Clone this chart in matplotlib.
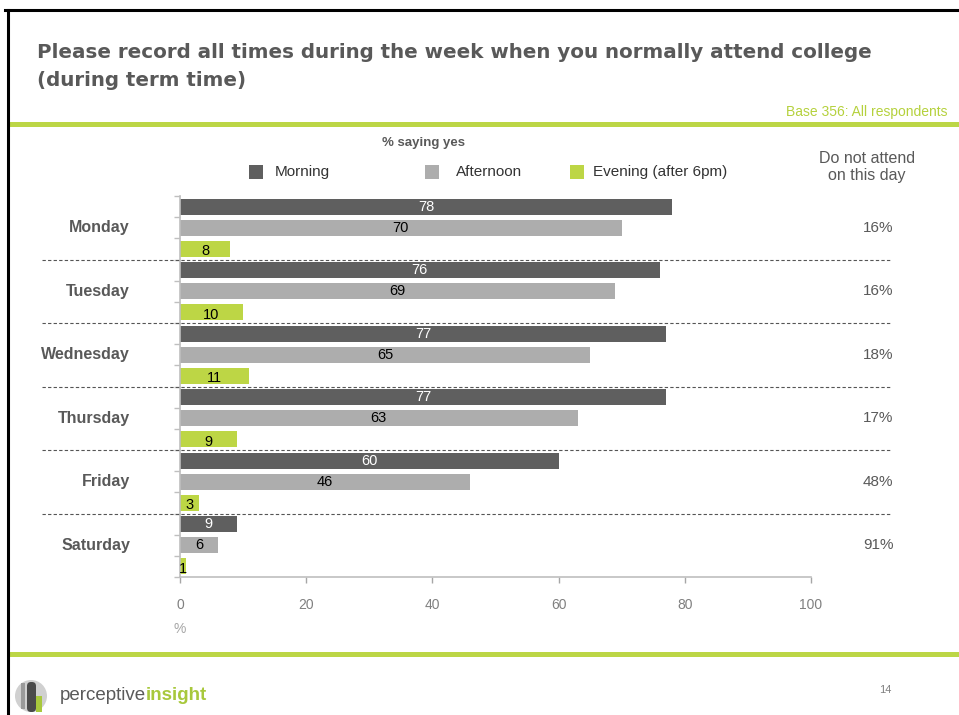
import matplotlib
matplotlib.use("Agg")
import matplotlib.pyplot as plt
from matplotlib.lines import Line2D
from matplotlib.patches import Rectangle, Circle, FancyBboxPatch
import numpy as np

plt.rcParams["font.family"] = ["Liberation Sans", "DejaVu Sans"]

days = ["Monday", "Tuesday", "Wednesday", "Thursday", "Friday", "Saturday"]
morning = [78, 76, 77, 77, 60, 9]
afternoon = [70, 69, 65, 63, 46, 6]
evening = [8, 10, 11, 9, 3, 1]
not_attend = ["16%", "16%", "18%", "17%", "48%", "91%"]
series_names = ["Morning", "Afternoon", "Evening (after 6pm)"]
xticks = [0, 20, 40, 60, 80, 100]

C_MORN = "#5f5f5f"
C_AFT = "#adadad"
C_EVE = "#bdd645"
C_TEXT = "#595959"
C_GREEN = "#bcd646"

W, H = 959, 715
fig = plt.figure(figsize=(W / 100, H / 100), dpi=100)


def fx(x):
    return x / W


def fy(y):
    return 1 - y / H


# slide frame and green rules
fig.add_artist(Line2D([fx(5), fx(959)], [fy(10), fy(10)], color="black", lw=2.2))
fig.add_artist(Line2D([fx(8), fx(8)], [fy(10), fy(715)], color="black", lw=2.2))
fig.add_artist(Rectangle((fx(9), fy(127)), fx(950), 5 / H, color=C_GREEN, lw=0))
fig.add_artist(Rectangle((fx(9), fy(657)), fx(950), 5 / H, color=C_GREEN, lw=0))

fig.text(fx(37), fy(52), "Please record all times during the week when you normally attend college",
         family="DejaVu Sans", weight="bold", fontsize=14.3, color=C_TEXT, va="center")
fig.text(fx(37), fy(80), "(during term time)",
         family="DejaVu Sans", weight="bold", fontsize=14.3, color=C_TEXT, va="center")
fig.text(fx(948), fy(112), "Base 356: All respondents", fontsize=10, color="#b5d13c",
         ha="right", va="center")

# chart area
left, right, top, bottom = 180, 811, 196, 577
ax = fig.add_axes([fx(left), fy(bottom), (right - left) / W, (bottom - top) / H])

n = len(days)
pos = np.arange(n) * 3
bh = 0.76
ax.barh(pos, morning, height=bh, color=C_MORN)
ax.barh(pos + 1, afternoon, height=bh, color=C_AFT)
ax.barh(pos + 2, evening, height=bh, color=C_EVE)

for i in range(n):
    ax.text(morning[i] / 2, pos[i], str(morning[i]), ha="center", va="center",
            fontsize=10.5, color="white")
    ax.text(afternoon[i] / 2, pos[i] + 1, str(afternoon[i]), ha="center", va="center",
            fontsize=10.5, color="black")
    ax.text(evening[i] / 2, pos[i] + 2.1, str(evening[i]), ha="center", va="center",
            fontsize=10.5, color="black")

ax.set_xlim(0, 100)
ax.set_ylim(3 * n - 0.5, -0.5)
ax.set_xticks(xticks)
ax.set_xticklabels([str(t) for t in xticks])
ax.tick_params(axis="x", colors="#a6a6a6", labelcolor="#808080", labelsize=10,
               length=4, width=1, pad=11)
ax.set_yticks(np.arange(3 * n + 1) - 0.5)
ax.set_yticklabels([])
ax.tick_params(axis="y", colors="#bfbfbf", length=4, width=1)
for s in ["top", "right"]:
    ax.spines[s].set_visible(False)
for s in ["left", "bottom"]:
    ax.spines[s].set_color("#bfbfbf")
    ax.spines[s].set_linewidth(1.2)

fig.text(fx(180), fy(629), "%", fontsize=10, color="#a6a6a6", ha="center", va="center")

# day labels, separators, "do not attend" column
grp = (bottom - top) / n
for i, d in enumerate(days):
    yc = top + grp * (i + 0.5)
    fig.text(fx(130), fy(yc), d, fontsize=11.5, weight="bold", color=C_TEXT,
             ha="right", va="center")
    fig.text(fx(878), fy(yc), not_attend[i], fontsize=11, color=C_TEXT,
             ha="center", va="center")
    if i > 0:
        ys = top + grp * i
        fig.add_artist(Line2D([fx(42), fx(890)], [fy(ys), fy(ys)], color="#555555",
                              lw=0.8, ls=(0, (3, 2))))

fig.text(fx(424), fy(143), "% saying yes", fontsize=9.5, weight="bold", color=C_TEXT,
         ha="center", va="center")
fig.text(fx(867), fy(167), "Do not attend\non this day", fontsize=11.5, color=C_TEXT,
         ha="center", va="center", linespacing=1.2)

# legend
for (sx, tx), name, col in zip([(249, 275), (425, 456), (570, 593)], series_names,
                               [C_MORN, C_AFT, C_EVE]):
    fig.add_artist(Rectangle((fx(sx), fy(179)), 14 / W, 14 / H, color=col, lw=0))
    fig.text(fx(tx), fy(172), name, fontsize=11, color="#333333", va="center")

# footer logo and page number
lax = fig.add_axes([fx(12), fy(715), 40 / W, 40 / H])
lax.set_xlim(0, 40)
lax.set_ylim(0, 40)
lax.set_aspect("equal")
lax.axis("off")
lax.add_patch(Circle((19, 19), 16, color="#d0d0d0", lw=0))
lax.add_patch(FancyBboxPatch((15, 3), 9, 30, boxstyle="round,pad=0,rounding_size=4",
                             color="#4a4a4a", lw=0))
lax.add_patch(Rectangle((24, 3), 6, 16, color="#a8c83c", lw=0))
lax.add_patch(Rectangle((9, 6), 4, 26, color="#9a9a9a", lw=0))

t1 = fig.text(fx(60), fy(696), "perceptive", fontsize=13.5, color="#5a5a5a", va="center")
fig.canvas.draw()
bb = t1.get_window_extent()
fig.text(bb.x1 / W, fy(696), "insight", fontsize=13.5, color="#a8c83c", va="center",
         weight="bold")
fig.text(fx(885), fy(690), "14", fontsize=8, color="#808080", ha="center", va="center")

fig.savefig("out.png", dpi=100)
